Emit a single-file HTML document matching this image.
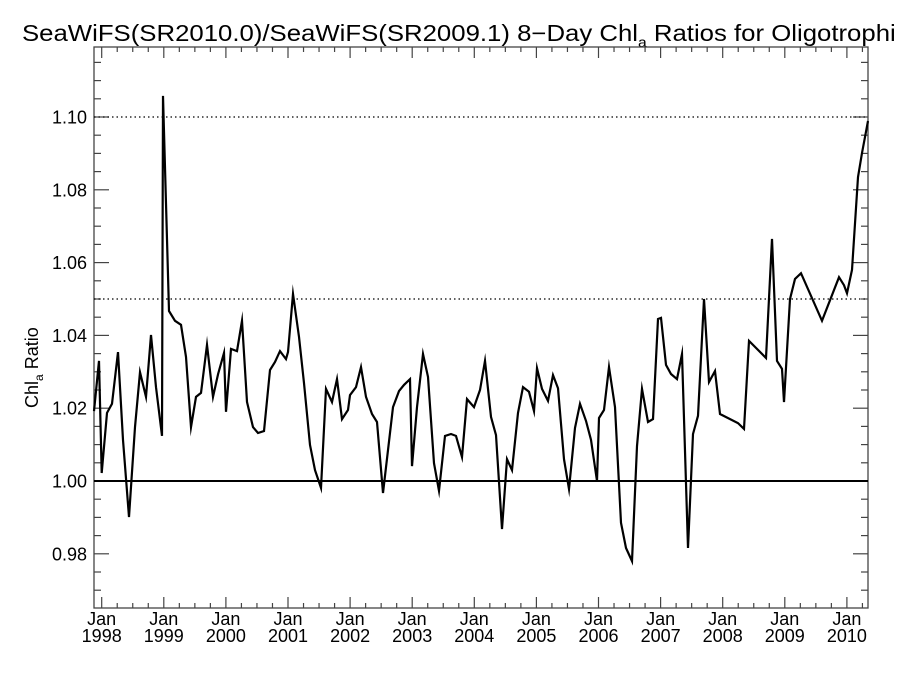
<!DOCTYPE html>
<html><head><meta charset="utf-8"><style>
html,body{margin:0;padding:0;background:#fff}
svg{display:block;font-family:"Liberation Sans",sans-serif}
</style></head><body>
<svg id="chart" width="900" height="675" viewBox="0 0 900 675" xmlns="http://www.w3.org/2000/svg">
<text transform="translate(22,41) scale(1.12,1)" x="0" y="0" font-size="23" fill="#000">SeaWiFS(SR2010.0)/SeaWiFS(SR2009.1) 8−Day Chl<tspan font-size="14" dy="6">a</tspan><tspan dy="-6"> Ratios for Oligotrophi</tspan></text>
<text transform="translate(38,408) rotate(-90)" font-size="18" fill="#000">Chl<tspan font-size="12" dy="5">a</tspan><tspan dy="-5"> Ratio</tspan></text>
<g id="axes"></g>
<g id="series"></g>
</svg>
<script>
const years = [1997.876,1997.957,1998.000,1998.085,1998.166,1998.262,1998.343,1998.440,1998.536,1998.617,1998.713,1998.794,1998.874,1998.971,1998.987,
1999.084,1999.181,1999.277,1999.357,1999.438,1999.519,1999.599,1999.696,1999.793,1999.874,1999.970,2000.002,2000.082,2000.179,2000.259,2000.340,2000.436,2000.517,2000.614,2000.710,2000.791,2000.871,2000.968,2001.000,2001.081,2001.177,2001.258,2001.354,2001.435,2001.531,2001.612,2001.709,2001.789,2001.870,2001.966,2001.998,
2002.095,2002.176,2002.256,2002.353,2002.433,2002.530,2002.610,2002.691,2002.787,2002.868,2002.965,2002.997,2003.077,2003.174,2003.254,2003.351,2003.432,2003.528,2003.625,2003.705,2003.802,2003.882,2003.995,2004.092,
2004.172,2004.269,2004.349,2004.446,2004.527,2004.607,2004.704,2004.784,2004.881,2004.961,2005.010,2005.090,2005.187,2005.267,2005.348,2005.445,2005.525,2005.622,2005.702,2005.799,2005.879,2005.976,2006.008,2006.089,2006.169,2006.266,2006.362,2006.443,2006.539,2006.620,2006.700,2006.797,2006.877,2006.958,2007.006,
2007.087,2007.167,2007.264,2007.344,2007.441,2007.522,2007.602,2007.699,2007.779,2007.876,2007.957,2008.247,2008.343,2008.424,2008.698,2008.794,2008.874,2008.955,2008.987,2009.083,2009.164,2009.261,2009.599,2009.873,2009.954,2010.002,2010.082,2010.179,2010.243,2010.340];
const ratios = [1.0192,1.0330,1.0022,1.0187,1.0212,1.0354,1.0113,0.9901,1.0148,1.0299,1.0231,1.0401,1.0258,1.0124,1.1058,
1.0467,1.0440,1.0429,1.0341,1.0148,1.0231,1.0242,1.0374,1.0231,1.0294,1.0352,1.0190,1.0363,1.0357,1.0440,1.0217,1.0148,1.0132,1.0137,1.0305,1.0327,1.0357,1.0335,1.0354,1.0514,1.0396,1.0269,1.0099,1.0030,0.9981,1.0253,1.0217,1.0280,1.0170,1.0195,1.0236,
1.0258,1.0313,1.0231,1.0184,1.0162,0.9967,1.0085,1.0203,1.0247,1.0264,1.0280,1.0041,1.0203,1.0349,1.0286,1.0049,0.9973,1.0124,1.0129,1.0124,1.0066,1.0225,1.0203,1.0250,
1.0330,1.0176,1.0126,0.9868,1.0060,1.0030,1.0187,1.0258,1.0245,1.0192,1.0310,1.0253,1.0220,1.0291,1.0255,1.0060,0.9978,1.0146,1.0212,1.0165,1.0113,1.0000,1.0173,1.0195,1.0313,1.0203,0.9885,0.9816,0.9780,1.0096,1.0253,1.0162,1.0170,1.0445,1.0448,
1.0319,1.0294,1.0280,1.0349,0.9816,1.0129,1.0179,1.0500,1.0272,1.0302,1.0184,1.0159,1.0143,1.0385,1.0338,1.0665,1.0330,1.0308,1.0217,1.0500,1.0555,1.0571,1.0440,1.0560,1.0538,1.0516,1.0580,1.0835,1.0901,1.0989];
const yTickValues = [0.98,1.00,1.02,1.04,1.06,1.08,1.10];
const yTickLabels = ["0.98","1.00","1.02","1.04","1.06","1.08","1.10"];
const xTickYears = [1998,1999,2000,2001,2002,2003,2004,2005,2006,2007,2008,2009,2010];
const refLines = [1.10,1.05];

const L=94,R=868,T=47,B=608;
const X0=1998,X0px=101.7,PXY=62.1;
const Ymin=0.96511,Ymax=1.11923;
function xs(v){return X0px+(v-X0)*PXY;}
function ys(v){return B-(v-Ymin)/(Ymax-Ymin)*(B-T);}
const NS="http://www.w3.org/2000/svg";
const axes=document.getElementById('axes'), series=document.getElementById('series');
function mk(tag,attrs,parent){const e=document.createElementNS(NS,tag);for(const k in attrs)e.setAttribute(k,attrs[k]);parent.appendChild(e);return e;}
const ac="#444";
const fr=mk('rect',{x:L,y:T,width:R-L,height:B-T,fill:'none',stroke:ac,'stroke-width':1.3},axes);


for(let v=0.97;v<1.1195;v+=0.005){
  const y=ys(v);
  const major=yTickValues.some(t=>Math.abs(t-v)<1e-6);
  const len=major?15:7;
  const t1=mk('line',{x1:L,x2:L+len,y1:y,y2:y,stroke:ac,'stroke-width':1.2},axes);
  
  
  const t2=mk('line',{x1:R,x2:R-len,y1:y,y2:y,stroke:ac,'stroke-width':1.2},axes);
  
  
}
yTickValues.forEach((v,i)=>{
  const t=mk('text',{x:L-7,y:ys(v)+6.5,'text-anchor':'end','font-size':18,fill:'#000'},axes);
  t.textContent=yTickLabels[i];
  
  
});
for(let q=1997.75;q<=2010.4;q+=0.25){
  const x=xs(q); if(x<L+1||x>R-1) continue;
  const major=Math.abs(q-Math.round(q))<1e-6;
  const len=major?11:5;
  const a=mk('line',{x1:x,x2:x,y1:B,y2:B-len,stroke:ac,'stroke-width':1.2},axes);
  
  
  const b=mk('line',{x1:x,x2:x,y1:T,y2:T+len,stroke:ac,'stroke-width':1.2},axes);
  
  
}
xTickYears.forEach(yr=>{
  const x=xs(yr);
  const t=mk('text',{x:x,y:B+17,'text-anchor':'middle','font-size':18,fill:'#000'},axes);
  t.textContent='Jan';
  
  
  const t2=mk('text',{x:x,y:B+34,'text-anchor':'middle','font-size':18,fill:'#000'},axes);
  t2.textContent=String(yr);
  
  
});
refLines.forEach(v=>{
  const l=mk('line',{x1:L,x2:R,y1:ys(v),y2:ys(v),stroke:'#000','stroke-width':1.3,'stroke-dasharray':'1.5,3'},series);
  
  
});
const one=mk('line',{x1:L,x2:R,y1:ys(1),y2:ys(1),stroke:'#000','stroke-width':2},series);


let d='';
const n=Math.min(years.length,ratios.length);
for(let i=0;i<n;i++){d+=(i?'L':'M')+Math.max(L,Math.min(R,xs(years[i]))).toFixed(1)+','+ys(ratios[i]).toFixed(1);}
const p=mk('path',{d:d,fill:'none',stroke:'#000','stroke-width':2.2,'stroke-linejoin':'miter','stroke-miterlimit':10},series);


</script>
</body></html>
